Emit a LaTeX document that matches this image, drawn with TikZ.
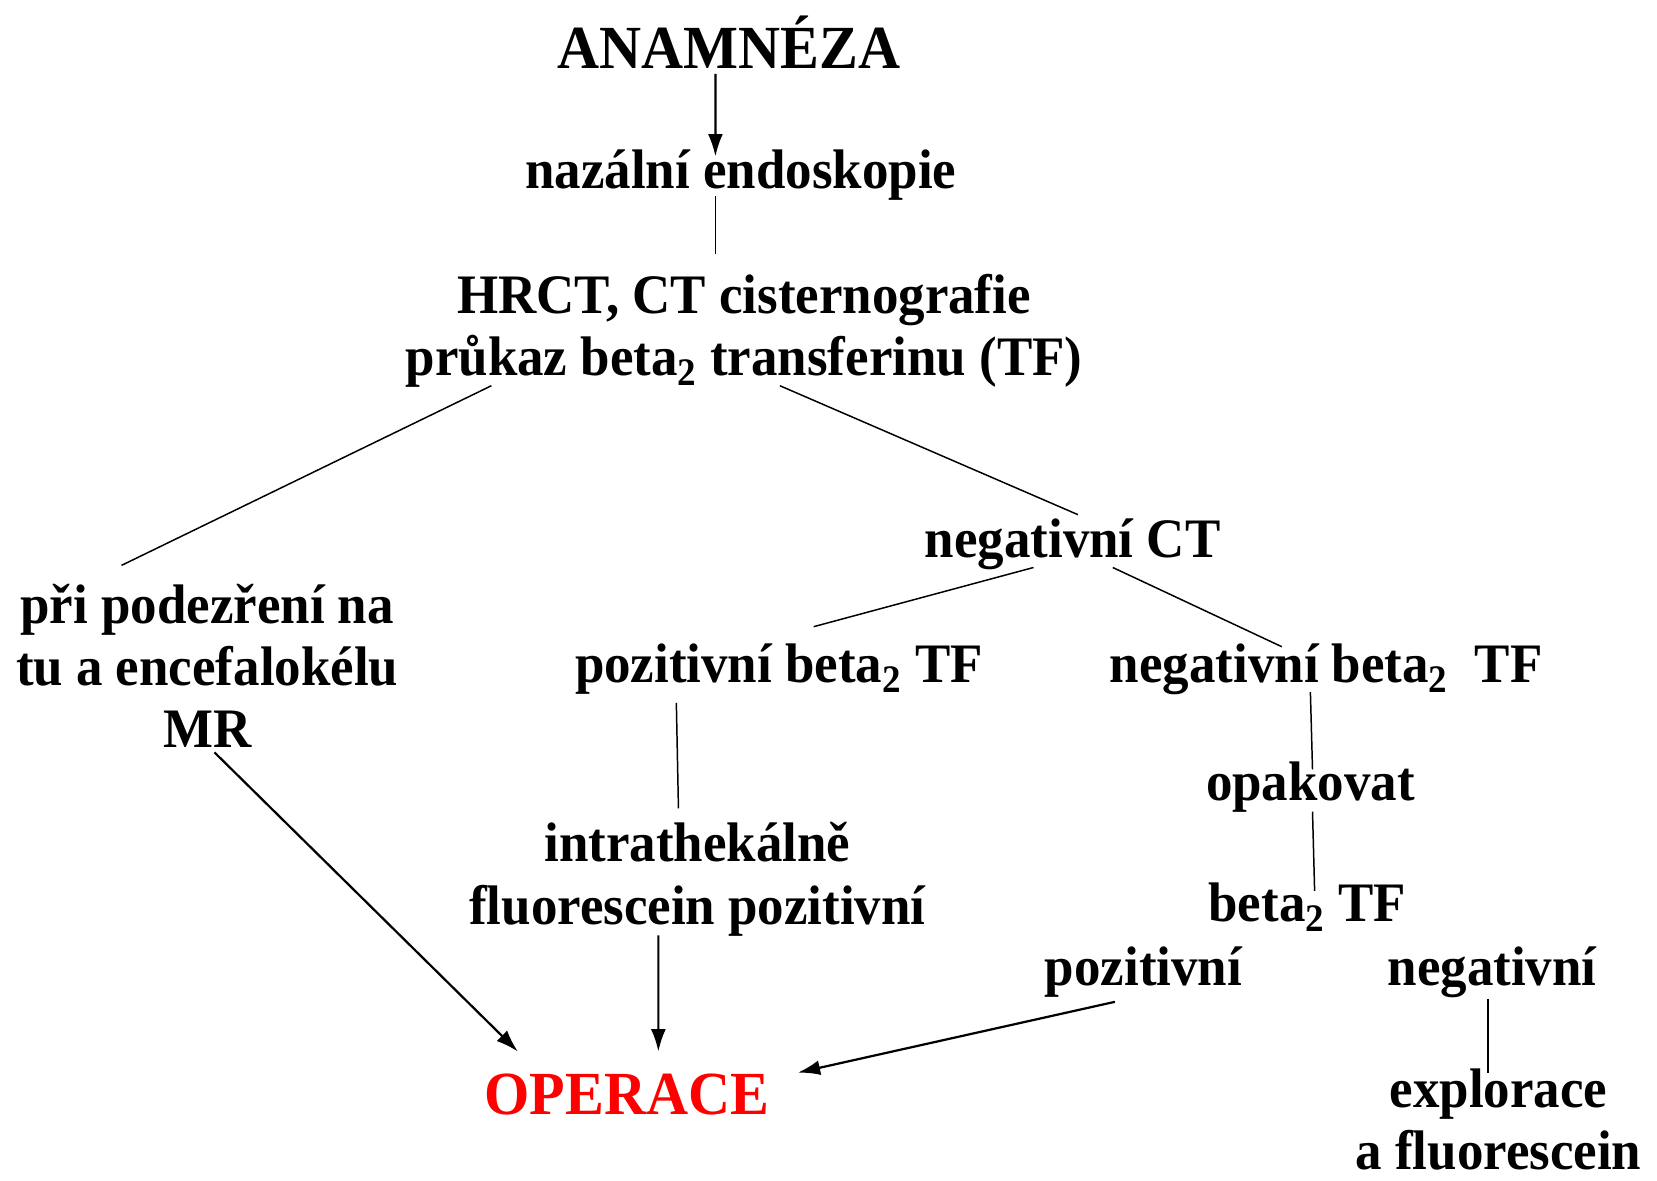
\documentclass[tikz,border=0pt]{standalone}
\usepackage{fontspec}
\setmainfont{Liberation Serif}[FakeStretch=0.95]
\usetikzlibrary{arrows.meta}
\tikzstyle{txt} = [inner sep=0pt, align=center,
    font=\fontsize{30}{33.5}\selectfont\bfseries]
\tikzstyle{head} = [txt, font=\fontsize{33}{36}\selectfont\bfseries]
\tikzstyle{conn} = [line width=0.8pt]
\tikzstyle{arr} = [line width=1.2pt, -{Latex[length=12pt,width=8pt]}]

\begin{document}
\begin{tikzpicture}[auto, node distance=2cm]
\useasboundingbox (0,0) rectangle (31.36,-22.34);

\node [head, name=anam] at (13.8,-0.8) {ANAMNÉZA};
\node [txt, below of=anam, node distance=2.52cm, xshift=0.22cm] (endo) {nazální endoskopie};
\node [txt, below of=endo, node distance=2.94cm, xshift=0.06cm] (hrct) {HRCT, CT cisternografie\\ průkaz beta\textsubscript{2} transferinu (TF)};

\node [txt, below of=hrct, node distance=6.34cm, xshift=-10.16cm] (left) {při podezření na\\ tu a encefalokélu\\ MR};
\node [txt, below of=hrct, node distance=4.04cm, xshift=6.22cm] (negct) {negativní CT};
\node [txt, below of=negct, node distance=2.36cm, xshift=-5.56cm] (posb) {pozitivní beta\textsubscript{2} TF};
\node [txt, right of=posb, node distance=10.36cm] (negb) {negativní beta\textsubscript{2}~ TF};
\node [txt, below of=posb, node distance=3.98cm, xshift=-1.54cm] (intra) {intrathekálně\\ fluorescein pozitivní};

\node [txt, below of=negb, node distance=2.24cm, xshift=-0.3cm] (opak) {opakovat};
\node [txt, below of=opak, node distance=2.26cm, xshift=-0.06cm] (beta) {beta\textsubscript{2} TF};
\node [txt, below of=beta, node distance=1.24cm, xshift=-3.1cm] (pozit) {pozitivní};
\node [txt, right of=pozit, node distance=6.6cm] (negat) {negativní};
\node [txt, below of=negat, node distance=2.78cm, xshift=0.12cm] (expl) {explorace\\ a fluorescein};

\node [head, text=red, below of=intra, node distance=4.08cm, xshift=-1.34cm] (oper) {OPERACE};

\draw [arr] ([xshift=-0.26cm,yshift=-0.6cm]anam.center) -- ([xshift=-0.48cm,yshift=0.36cm]endo.center);
\draw [conn] ([xshift=-0.48cm,yshift=-0.38cm]endo.center) -- ([xshift=-0.54cm,yshift=1.46cm]hrct.center);
\draw [conn] ([xshift=-4.78cm,yshift=-1.04cm]hrct.center) -- ([xshift=-1.62cm,yshift=1.9cm]left.center);
\draw [conn] ([xshift=0.68cm,yshift=-1.04cm]hrct.center) -- ([xshift=0.1cm,yshift=0.56cm]negct.center);
\draw [conn] ([xshift=-0.74cm,yshift=-0.44cm]negct.center) -- ([xshift=0.66cm,yshift=0.8cm]posb.center);
\draw [conn] ([xshift=0.76cm,yshift=-0.44cm]negct.center) -- ([xshift=-0.84cm,yshift=0.42cm]negb.center);
\draw [conn] ([xshift=-1.94cm,yshift=-0.64cm]posb.center) -- ([xshift=-0.36cm,yshift=1.34cm]intra.center);
\draw [arr] ([xshift=-0.74cm,yshift=-1.06cm]intra.center) -- ([xshift=0.6cm,yshift=0.82cm]oper.center);
\draw [arr] ([xshift=0.14cm,yshift=-1.64cm]left.center) -- ([xshift=-2.06cm,yshift=0.82cm]oper.center);
\draw [conn] ([xshift=-0.3cm,yshift=-0.44cm]negb.center) -- ([xshift=0.04cm,yshift=0.34cm]opak.center);
\draw [conn] ([xshift=0.04cm,yshift=-0.46cm]opak.center) -- ([xshift=0.14cm,yshift=0.3cm]beta.center);
\draw [arr] ([xshift=-0.54cm,yshift=-0.56cm]pozit.center) -- ([xshift=3.24cm,yshift=0.42cm]oper.center);
\draw [conn] ([xshift=-0.08cm,yshift=-0.5cm]negat.center) -- ([xshift=-0.2cm,yshift=0.88cm]expl.center);

\end{tikzpicture}
\end{document}
